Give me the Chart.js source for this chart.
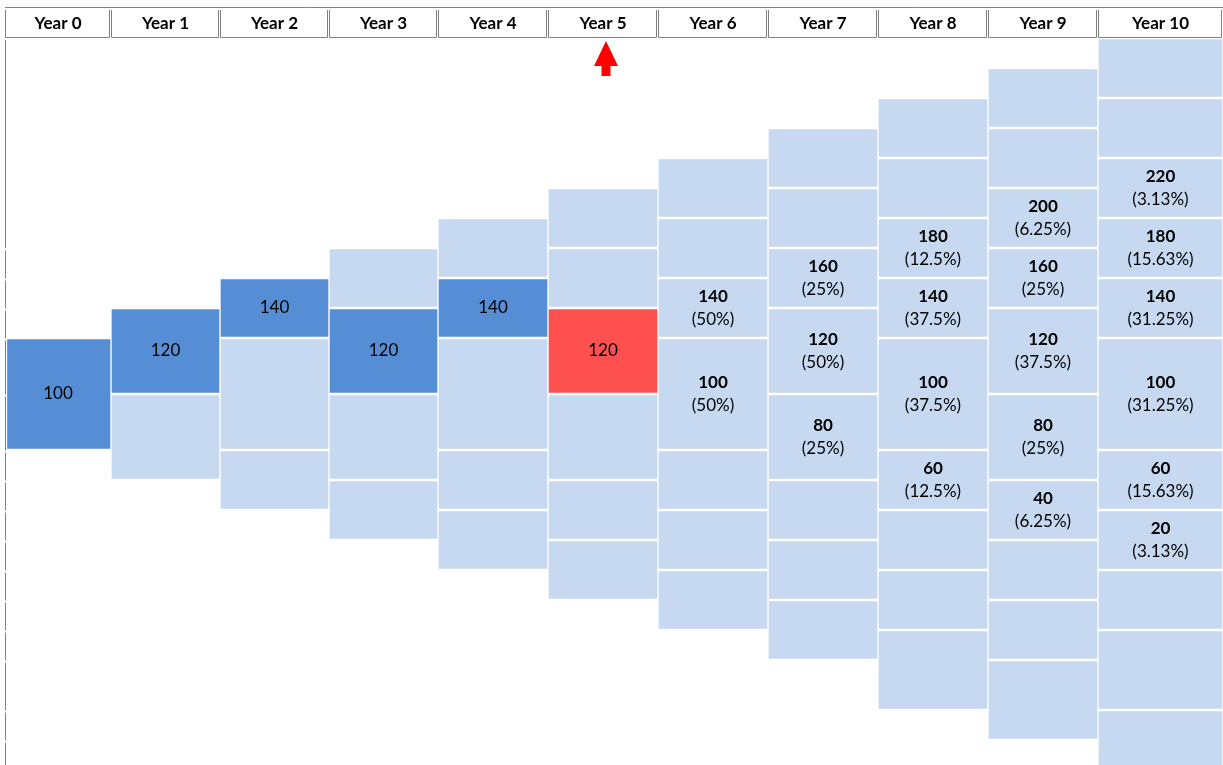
<!DOCTYPE html>
<html>
<head>
<meta charset="utf-8">
<title>Binomial lattice</title>
<script src="https://cdn.jsdelivr.net/npm/chart.js@4.4.1/dist/chart.umd.min.js"></script>
<style>
  html, body { margin: 0; padding: 0; background: #fff; overflow: hidden; }
</style>
</head>
<body>
<canvas id="tree" width="1223" height="765"></canvas>
<script>
// ── DATA ──
const years = ['Year 0', 'Year 1', 'Year 2', 'Year 3', 'Year 4', 'Year 5', 'Year 6', 'Year 7', 'Year 8', 'Year 9', 'Year 10'];

// every node of the lattice, per year (top to bottom)
const lattice = [
  [100],
  [120, 80],
  [140, 100, 60],
  [160, 120, 80, 40],
  [180, 140, 100, 60, 20],
  [200, 160, 120, 80, 40, 0],
  [220, 180, 140, 100, 60, 20, -20],
  [240, 200, 160, 120, 80, 40, 0, -40],
  [260, 220, 180, 140, 100, 60, 20, -20, -60],
  [280, 240, 200, 160, 120, 80, 40, 0, -40, -80],
  [300, 260, 220, 180, 140, 100, 60, 20, -20, -60, -100]
];

const currentYear = 5;
const pathValues = [100, 120, 140, 120, 140, 120];   // realised values, Year 0 .. Year 5

// reachable values after the current year and their probabilities
const forecastValues = [
  [140, 100],
  [160, 120, 80],
  [180, 140, 100, 60],
  [200, 160, 120, 80, 40],
  [220, 180, 140, 100, 60, 20]
];
const forecastProbs = [
  ['50%', '50%'],
  ['25%', '50%', '25%'],
  ['12.5%', '37.5%', '37.5%', '12.5%'],
  ['6.25%', '25%', '37.5%', '25%', '6.25%'],
  ['3.13%', '15.63%', '31.25%', '31.25%', '15.63%', '3.13%']
];

// ── SHEET GEOMETRY (px) ──
const colWidths  = [106, 109, 109, 109, 110, 110, 110, 110, 110, 110, 125];
const rowHeights = [30, 30, 30, 30, 30, 30, 30, 30, 30, 30, 56, 56, 30, 30, 30, 30, 30, 30, 30, 50, 30, 30];
const topLevel = 300;   // node value whose block starts on the first row
const levelStep = 20;   // value change per sheet row
const headerH = 38;

const colEdges = [0];
colWidths.forEach(w => colEdges.push(colEdges[colEdges.length - 1] + w));
const rowEdges = [0];
rowHeights.forEach(h => rowEdges.push(rowEdges[rowEdges.length - 1] + h));
const colCenter = i => (colEdges[i] + colEdges[i + 1]) / 2;
const rowOf = v => (topLevel - v) / levelStep;

const DARK = '#558ED5', LIGHT = '#C6D9F1', RED = '#FF5050';

function nodeColor(i, v) {
  if (i <= currentYear && v === pathValues[i]) return i === currentYear ? RED : DARK;
  return LIGHT;
}

function nodeLabel(i, v) {
  if (i <= currentYear) return v === pathValues[i] ? { main: String(v) } : null;
  const k = forecastValues[i - currentYear - 1].indexOf(v);
  if (k < 0) return null;
  return { main: String(v), sub: '(' + forecastProbs[i - currentYear - 1][k] + ')' };
}

const datasets = lattice.map((nodes, i) => ({
  label: years[i],
  data: nodes.map(v => ({ x: colCenter(i), y: [rowEdges[rowOf(v)], rowEdges[rowOf(v) + 2]] })),
  backgroundColor: nodes.map(v => nodeColor(i, v)),
  borderColor: '#FFFFFF',
  borderWidth: { top: 1.5, bottom: 1.5, left: i === 0 ? 2.5 : 1, right: 1 },
  borderSkipped: false,
  barThickness: colWidths[i]
}));

// ── header, sheet border, arrow and cell labels ──
const sheetPlugin = {
  id: 'sheet',
  afterDraw(chart) {
    const { ctx, scales: { x, y } } = chart;
    ctx.save();

    // cell labels
    ctx.fillStyle = '#000';
    ctx.textAlign = 'center';
    ctx.textBaseline = 'middle';
    lattice.forEach((nodes, i) => {
      const meta = chart.getDatasetMeta(i);
      nodes.forEach((v, k) => {
        const lab = nodeLabel(i, v);
        if (!lab) return;
        const c = meta.data[k].getCenterPoint();
        if (lab.sub) {
          ctx.font = 'bold 17px Lato';
          ctx.fillText(lab.main, c.x, c.y - 11.5);
          ctx.font = '17px Lato';
          ctx.fillText(lab.sub, c.x, c.y + 11.5);
        } else {
          ctx.font = '17px Lato';
          ctx.fillText(lab.main, c.x, c.y);
        }
      });
    });

    // header cells
    ctx.strokeStyle = '#808080';
    ctx.lineWidth = 1;
    ctx.beginPath();
    ctx.moveTo(x.left, 7.5);
    ctx.lineTo(chart.width, 7.5);
    years.forEach((name, i) => {
      const L = Math.round(x.getPixelForValue(colEdges[i])) + 0.5;
      const R = Math.round(x.getPixelForValue(colEdges[i + 1])) - 1.5;
      ctx.moveTo(L, 10); ctx.lineTo(L, y.top - 0.5);
      ctx.lineTo(R, y.top - 0.5);
      ctx.moveTo(R, 10); ctx.lineTo(R, y.top - 0.5);
    });
    ctx.stroke();

    ctx.font = 'bold 17px Lato';
    ctx.fillStyle = '#000';
    years.forEach((name, i) => {
      ctx.fillText(name, x.getPixelForValue(colCenter(i)), 24);
    });

    // left border of the sheet, broken at the row lines
    ctx.beginPath();
    const lx = x.left + 0.5;
    ctx.moveTo(lx, y.getPixelForValue(rowEdges[0]) + 2);
    ctx.lineTo(lx, y.getPixelForValue(rowEdges[7]));
    for (let r = 7; r < rowHeights.length; r++) {
      ctx.moveTo(lx, y.getPixelForValue(rowEdges[r]) + 2.5);
      ctx.lineTo(lx, Math.min(y.bottom, y.getPixelForValue(rowEdges[r + 1]) + 0.5));
    }
    ctx.stroke();

    // arrow under the current year
    const ax = x.getPixelForValue(colCenter(currentYear)) + 3;
    ctx.fillStyle = '#FF0000';
    ctx.beginPath();
    ctx.moveTo(ax, 41);
    ctx.lineTo(ax + 12, 66);
    ctx.lineTo(ax + 4.5, 66);
    ctx.lineTo(ax + 4.5, 76);
    ctx.lineTo(ax - 4.5, 76);
    ctx.lineTo(ax - 4.5, 66);
    ctx.lineTo(ax - 12, 66);
    ctx.closePath();
    ctx.fill();

    ctx.restore();
  }
};

new Chart(document.getElementById('tree'), {
  type: 'bar',
  data: { datasets },
  options: {
    responsive: false,
    animation: false,
    events: [],
    layout: { padding: { left: 5, right: 0, top: headerH, bottom: 0 } },
    plugins: { legend: { display: false }, tooltip: { enabled: false } },
    scales: {
      x: { type: 'linear', min: 0, max: colEdges[colEdges.length - 1], offset: false, grid: { offset: false }, stacked: true, display: false },
      y: { type: 'linear', min: 0, max: 765 - headerH, reverse: true, stacked: false, display: false }
    }
  },
  plugins: [sheetPlugin]
});
</script>
</body>
</html>
